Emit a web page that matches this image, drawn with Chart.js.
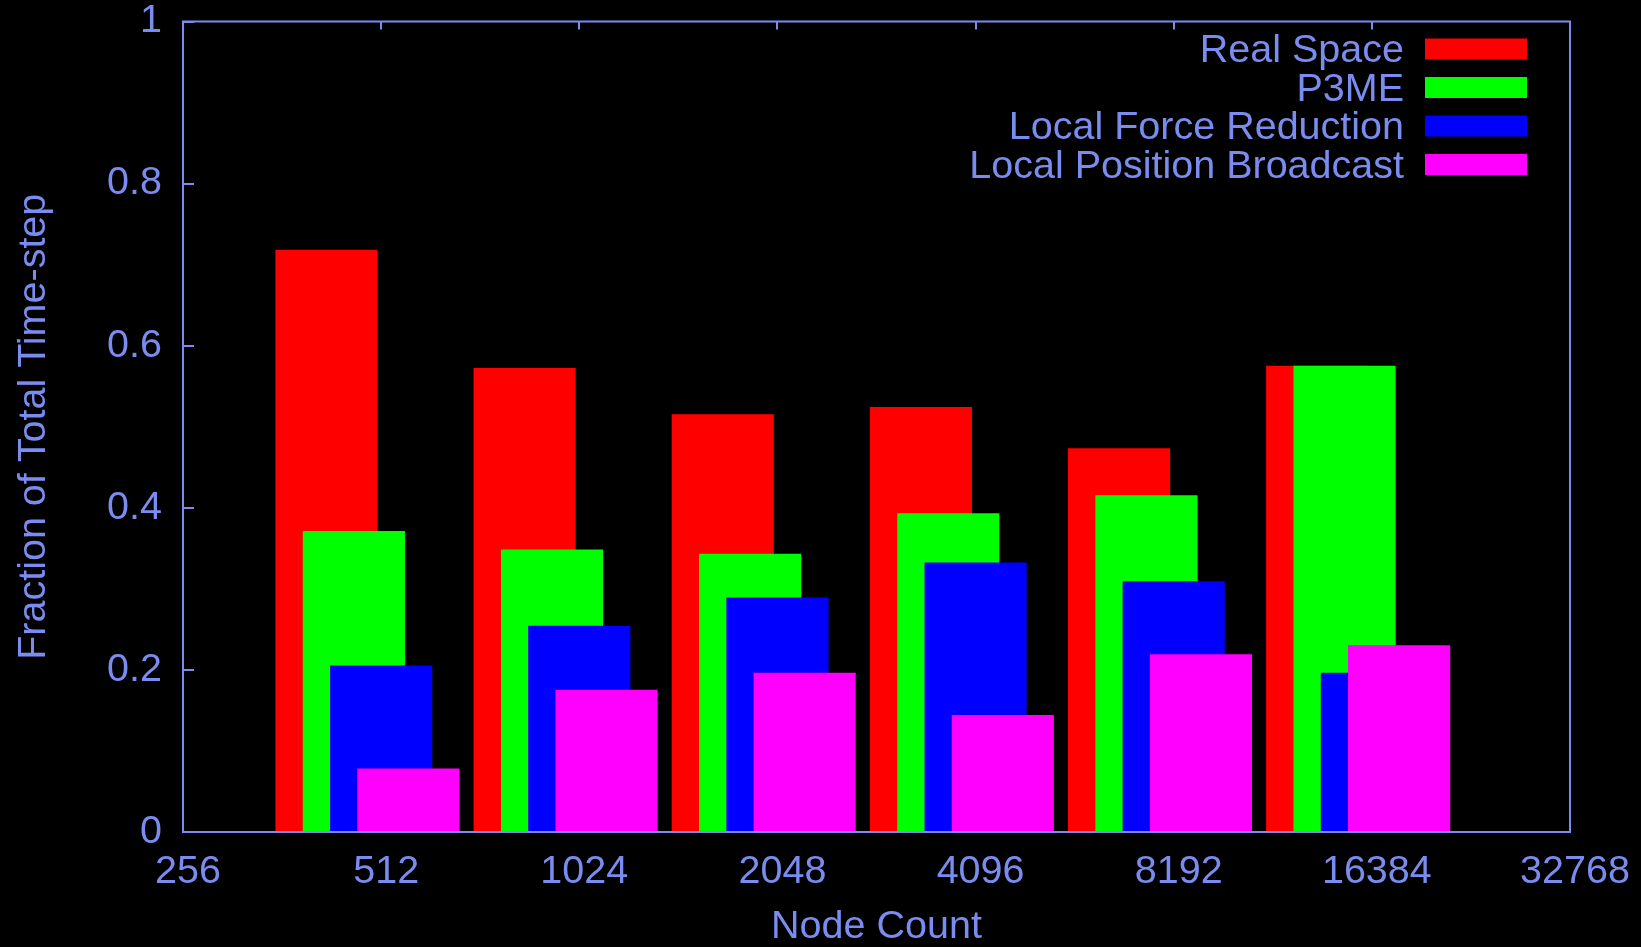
<!DOCTYPE html>
<html>
<head>
<meta charset="utf-8">
<title>Fraction of Total Time-step</title>
<script src="https://cdn.jsdelivr.net/npm/chart.js@4.4.1/dist/chart.umd.min.js"></script>
<style>
  html, body { margin: 0; padding: 0; background: #000; }
  #wrap { width: 1641px; height: 947px; position: relative; }
</style>
</head>
<body>
<div id="wrap"><canvas id="chart"></canvas></div>
<script>
// --- data ---
const nodeCounts = [512, 1024, 2048, 4096, 8192, 16384];
const realSpace = [0.718, 0.572, 0.515, 0.524, 0.473, 0.575];
const p3me = [0.371, 0.348, 0.343, 0.393, 0.415, 0.575];
const forceReduction = [0.205, 0.254, 0.289, 0.332, 0.309, 0.196];
const positionBroadcast = [0.078, 0.175, 0.196, 0.144, 0.219, 0.230];

const seriesNames = ["Real Space", "P3ME", "Local Force Reduction", "Local Position Broadcast"];
const xTicks = [256, 512, 1024, 2048, 4096, 8192, 16384, 32768];

// --- look ---
const ink = "#7b8cf0";
const fontFamily = "'Liberation Sans', Arial, sans-serif";
const fontSize = 39.5;
const seriesColors = ["#ff0000", "#00ff00", "#0000ff", "#ff00ff"];
// each series sits a little to the side of the node count (factor on a log axis)
const barShift = [0.826, 0.909, 1.0, 1.1];

const seriesValues = [realSpace, p3me, forceReduction, positionBroadcast];

const datasets = seriesValues.map((vals, k) => ({
  label: seriesNames[k],
  data: nodeCounts.map((n, i) => ({ x: n * barShift[k], y: vals[i] })),
  backgroundColor: seriesColors[k],
  borderWidth: 0,
  barThickness: 101.5,
  grouped: false,
  // later series are painted over earlier ones
  order: seriesValues.length - k,
}));

// frame, inward tick marks and the key
const framePlugin = {
  id: "frame",
  beforeDatasetsDraw(chart) {
    const { ctx, chartArea: a, scales } = chart;
    ctx.save();
    ctx.strokeStyle = ink;
    ctx.lineWidth = 2;
    ctx.beginPath();
    scales.x.ticks.forEach((t) => {
      const px = Math.round(scales.x.getPixelForValue(t.value));
      ctx.moveTo(px, a.top);
      ctx.lineTo(px, a.top + 8);
      ctx.moveTo(px, a.bottom);
      ctx.lineTo(px, a.bottom - 8);
    });
    scales.y.ticks.forEach((t) => {
      const py = Math.round(scales.y.getPixelForValue(t.value));
      ctx.moveTo(a.left, py);
      ctx.lineTo(a.left + 11, py);
    });
    ctx.stroke();
    ctx.restore();
  },
  afterDatasetsDraw(chart) {
    const { ctx, chartArea: a } = chart;
    ctx.save();
    ctx.strokeStyle = ink;
    ctx.lineWidth = 2;
    ctx.strokeRect(a.left, a.top, a.right - a.left, a.bottom - a.top);

    // key, top right inside the plot
    ctx.font = fontSize + "px " + fontFamily;
    ctx.textAlign = "right";
    ctx.textBaseline = "middle";
    const swRight = a.right - 43;
    const swW = 102, swH = 21;
    chart.data.datasets.forEach((ds, i) => {
      const cy = a.top + 27.5 + i * 38.5;
      ctx.fillStyle = ds.backgroundColor;
      ctx.fillRect(swRight - swW, cy - swH / 2, swW, swH);
      ctx.fillStyle = ink;
      ctx.fillText(ds.label, swRight - swW - 21, cy + 2.5);
    });
    ctx.restore();
  },
};

new Chart(document.getElementById("chart"), {
  type: "bar",
  data: { datasets },
  options: {
    responsive: true,
    maintainAspectRatio: false,
    animation: false,
    layout: { padding: { top: 0, right: 71, left: 0, bottom: 0 } },
    plugins: {
      legend: { display: false },
      tooltip: { enabled: false },
    },
    scales: {
      x: {
        type: "logarithmic",
        min: 256,
        max: 32768,
        offset: false,
        grid: { display: false, drawTicks: false },
        border: { display: false },
        afterBuildTicks: (scale) => {
          scale.ticks = xTicks.map((v) => ({ value: v }));
        },
        afterFit: (scale) => {
          scale.height = 115;
        },
        ticks: {
          color: ink,
          font: { family: fontFamily, size: fontSize, lineHeight: 1.2 },
          padding: 16,
          labelOffset: 5,
          maxRotation: 0,
          autoSkip: false,
          callback: (v) => String(v),
        },
        title: {
          display: true,
          text: "Node Count",
          color: ink,
          font: { family: fontFamily, size: fontSize, lineHeight: 1.0 },
          padding: { top: 0, bottom: 0 },
        },
      },
      y: {
        min: 0,
        max: 1,
        grid: { display: false, drawTicks: false },
        border: { display: false },
        afterFit: (scale) => {
          scale.width = 183;
          // room above the plot: just enough for the "1" label
          scale.paddingTop = 21.5;
          scale.paddingBottom = 0;
        },
        ticks: {
          stepSize: 0.2,
          color: ink,
          font: { family: fontFamily, size: fontSize, lineHeight: 1.2 },
          padding: 21,
          callback: (v) => String(+v.toFixed(1)),
        },
        title: {
          display: true,
          text: "Fraction of Total Time-step",
          color: ink,
          font: { family: fontFamily, size: fontSize, lineHeight: 1.2 },
          padding: { top: 10, bottom: 0 },
        },
      },
    },
  },
  plugins: [framePlugin],
});
</script>
</body>
</html>
